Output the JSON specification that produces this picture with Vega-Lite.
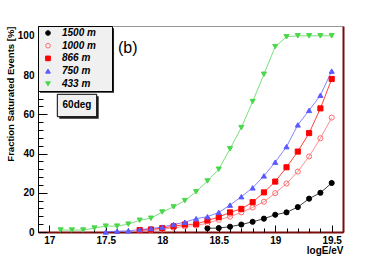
{
  "$schema": "https://vega.github.io/schema/vega-lite/v6.json",
  "width": 305,
  "height": 206,
  "autosize": "none",
  "padding": {"left": 38, "top": 26, "right": 39, "bottom": 27},
  "background": "white",
  "config": {"view": {"stroke": null}, "font": "Liberation Sans"},
  "datasets": {"runs": [
    {"series": "1500 m", "logE": 18.4, "frac": 1.9},
    {"series": "1500 m", "logE": 18.5, "frac": 2.0},
    {"series": "1500 m", "logE": 18.6, "frac": 2.7},
    {"series": "1500 m", "logE": 18.7, "frac": 3.8},
    {"series": "1500 m", "logE": 18.8, "frac": 5.2},
    {"series": "1500 m", "logE": 18.9, "frac": 6.8},
    {"series": "1500 m", "logE": 19.0, "frac": 8.8},
    {"series": "1500 m", "logE": 19.1, "frac": 10.0},
    {"series": "1500 m", "logE": 19.2, "frac": 12.7},
    {"series": "1500 m", "logE": 19.3, "frac": 17.0},
    {"series": "1500 m", "logE": 19.4, "frac": 20.0},
    {"series": "1500 m", "logE": 19.5, "frac": 25.0},
    {"series": "1000 m", "logE": 17.8, "frac": 0.5},
    {"series": "1000 m", "logE": 17.9, "frac": 0.8},
    {"series": "1000 m", "logE": 18.0, "frac": 1.3},
    {"series": "1000 m", "logE": 18.1, "frac": 2.2},
    {"series": "1000 m", "logE": 18.2, "frac": 2.8},
    {"series": "1000 m", "logE": 18.3, "frac": 3.3},
    {"series": "1000 m", "logE": 18.4, "frac": 4.5},
    {"series": "1000 m", "logE": 18.5, "frac": 6.2},
    {"series": "1000 m", "logE": 18.6, "frac": 7.8},
    {"series": "1000 m", "logE": 18.7, "frac": 10.0},
    {"series": "1000 m", "logE": 18.8, "frac": 12.5},
    {"series": "1000 m", "logE": 18.9, "frac": 15.4},
    {"series": "1000 m", "logE": 19.0, "frac": 19.8},
    {"series": "1000 m", "logE": 19.1, "frac": 24.7},
    {"series": "1000 m", "logE": 19.2, "frac": 30.8},
    {"series": "1000 m", "logE": 19.3, "frac": 38.5},
    {"series": "1000 m", "logE": 19.4, "frac": 47.8},
    {"series": "1000 m", "logE": 19.5, "frac": 58.3},
    {"series": "866 m", "logE": 17.8, "frac": 1.0},
    {"series": "866 m", "logE": 17.9, "frac": 1.3},
    {"series": "866 m", "logE": 18.0, "frac": 2.0},
    {"series": "866 m", "logE": 18.1, "frac": 2.9},
    {"series": "866 m", "logE": 18.2, "frac": 3.8},
    {"series": "866 m", "logE": 18.3, "frac": 4.0},
    {"series": "866 m", "logE": 18.4, "frac": 5.9},
    {"series": "866 m", "logE": 18.5, "frac": 7.6},
    {"series": "866 m", "logE": 18.6, "frac": 10.0},
    {"series": "866 m", "logE": 18.7, "frac": 11.8},
    {"series": "866 m", "logE": 18.8, "frac": 15.2},
    {"series": "866 m", "logE": 18.9, "frac": 20.2},
    {"series": "866 m", "logE": 19.0, "frac": 25.7},
    {"series": "866 m", "logE": 19.1, "frac": 33.0},
    {"series": "866 m", "logE": 19.2, "frac": 41.0},
    {"series": "866 m", "logE": 19.3, "frac": 50.4},
    {"series": "866 m", "logE": 19.4, "frac": 63.0},
    {"series": "866 m", "logE": 19.5, "frac": 78.0},
    {"series": "750 m", "logE": 17.5, "frac": 0.0},
    {"series": "750 m", "logE": 17.6, "frac": 0.4},
    {"series": "750 m", "logE": 17.7, "frac": 0.6},
    {"series": "750 m", "logE": 17.8, "frac": 1.2},
    {"series": "750 m", "logE": 17.9, "frac": 1.8},
    {"series": "750 m", "logE": 18.0, "frac": 2.5},
    {"series": "750 m", "logE": 18.1, "frac": 3.8},
    {"series": "750 m", "logE": 18.2, "frac": 5.0},
    {"series": "750 m", "logE": 18.3, "frac": 6.8},
    {"series": "750 m", "logE": 18.4, "frac": 7.8},
    {"series": "750 m", "logE": 18.5, "frac": 10.0},
    {"series": "750 m", "logE": 18.6, "frac": 13.7},
    {"series": "750 m", "logE": 18.7, "frac": 18.0},
    {"series": "750 m", "logE": 18.8, "frac": 22.5},
    {"series": "750 m", "logE": 18.9, "frac": 28.6},
    {"series": "750 m", "logE": 19.0, "frac": 35.6},
    {"series": "750 m", "logE": 19.1, "frac": 43.5},
    {"series": "750 m", "logE": 19.2, "frac": 54.6},
    {"series": "750 m", "logE": 19.3, "frac": 62.0},
    {"series": "750 m", "logE": 19.4, "frac": 69.7},
    {"series": "750 m", "logE": 19.5, "frac": 82.0},
    {"series": "433 m", "logE": 17.1, "frac": 1.0},
    {"series": "433 m", "logE": 17.2, "frac": 1.0},
    {"series": "433 m", "logE": 17.3, "frac": 1.0},
    {"series": "433 m", "logE": 17.4, "frac": 2.0},
    {"series": "433 m", "logE": 17.5, "frac": 3.0},
    {"series": "433 m", "logE": 17.6, "frac": 3.0},
    {"series": "433 m", "logE": 17.7, "frac": 4.0},
    {"series": "433 m", "logE": 17.8, "frac": 6.0},
    {"series": "433 m", "logE": 17.9, "frac": 7.0},
    {"series": "433 m", "logE": 18.0, "frac": 10.2},
    {"series": "433 m", "logE": 18.1, "frac": 12.8},
    {"series": "433 m", "logE": 18.2, "frac": 16.0},
    {"series": "433 m", "logE": 18.3, "frac": 20.5},
    {"series": "433 m", "logE": 18.4, "frac": 26.0},
    {"series": "433 m", "logE": 18.5, "frac": 32.0},
    {"series": "433 m", "logE": 18.6, "frac": 42.4},
    {"series": "433 m", "logE": 18.7, "frac": 53.2},
    {"series": "433 m", "logE": 18.8, "frac": 66.5},
    {"series": "433 m", "logE": 18.9, "frac": 80.4},
    {"series": "433 m", "logE": 19.0, "frac": 94.5},
    {"series": "433 m", "logE": 19.1, "frac": 99.5},
    {"series": "433 m", "logE": 19.2, "frac": 100.0},
    {"series": "433 m", "logE": 19.3, "frac": 100.0},
    {"series": "433 m", "logE": 19.4, "frac": 100.0},
    {"series": "433 m", "logE": 19.5, "frac": 100.0}
  ]},
  "resolve": {"axis": {"x": "independent", "y": "independent"}},
  "layer": [
    {
      "data": {"name": "runs"},
      "mark": {"type": "line", "strokeWidth": 1, "opacity": 0.75},
      "encoding": {
        "x": {"field": "logE", "type": "quantitative",
          "scale": {"domain": [16.9, 19.6], "nice": false, "zero": false},
          "axis": {"orient": "bottom", "values": [17, 17.5, 18, 18.5, 19, 19.5], "format": "~g", "tickSize": -7, "tickColor": "#000000", "tickWidth": 1,
            "domainColor": "#7a0c0c", "domainWidth": 2, "grid": false,
            "labelFont": "Liberation Sans", "labelFontWeight": "bold", "labelFontSize": 10, "labelColor": "#000000", "labelPadding": 10,
            "title": "logE/eV", "titleFont": "Liberation Sans", "titleFontWeight": "bold", "titleFontSize": 10, "titleColor": "#000000",
            "titleAnchor": "end", "titlePadding": 0}},
        "y": {"field": "frac", "type": "quantitative",
          "scale": {"domain": [0, 105], "nice": false},
          "axis": {"orient": "left", "values": [0, 20, 40, 60, 80, 100], "tickSize": -9, "tickColor": "#000000", "tickWidth": 1,
            "domainColor": "#000000", "domainWidth": 1, "grid": false,
            "labelFont": "Liberation Sans", "labelFontWeight": "bold", "labelFontSize": 10, "labelColor": "#000000", "labelPadding": 13,
            "title": "Fraction Saturated Events [%]", "titleFont": "Liberation Sans", "titleFontWeight": "bold", "titleFontSize": 9.5, "titleColor": "#000000",
            "titleAnchor": "end", "titlePadding": 2}},
        "detail": {"field": "series"},
        "color": {"field": "series", "type": "nominal", "legend": null,
          "scale": {"domain": ["433 m", "750 m", "866 m", "1000 m", "1500 m"], "range": ["#4cd64c", "#5a5aff", "#ff0000", "#ff6a6a", "#000000"]}}
      }
    },
    {
      "data": {"name": "runs"},
      "mark": {"type": "point", "filled": true, "opacity": 1, "strokeWidth": 1},
      "encoding": {
        "x": {"field": "logE", "type": "quantitative",
          "axis": {"orient": "bottom", "values": [16.9, 17.1, 17.2, 17.3, 17.4, 17.6, 17.7, 17.8, 17.9, 18.1, 18.2, 18.3, 18.4, 18.6, 18.7, 18.8, 18.9, 19.1, 19.2, 19.3, 19.4, 19.6],
            "tickSize": -4, "tickColor": "#000000", "labels": false, "domain": false, "grid": false, "title": null}},
        "y": {"field": "frac", "type": "quantitative",
          "axis": {"orient": "left", "values": [4, 8, 12, 16, 24, 28, 32, 36, 44, 48, 52, 56, 64, 68, 72, 76, 84, 88, 92, 96, 104],
            "tickSize": -5, "tickColor": "#000000", "labels": false, "domain": false, "grid": false, "title": null}},
        "stroke": {"field": "series", "type": "nominal",
          "scale": {"domain": ["1500 m", "1000 m", "866 m", "750 m", "433 m"], "range": ["#000000", "#ff6a6a", "#ff0000", "#5a5aff", "#4cd64c"]},
          "legend": {"orient": "none", "legendX": 0, "legendY": 0, "title": null, "fillColor": "#f0f0f0", "strokeColor": "#000000", "padding": 2, "symbolOffset": 3,
            "rowPadding": 2.7, "labelFont": "Liberation Sans", "labelFontWeight": "bold", "labelFontStyle": "italic", "labelFontSize": 10, "labelColor": "#000000", "labelOffset": 9,
            "symbolStrokeWidth": 1, "symbolSize": 22, "labelExpr": "datum.label + '\u2800\u2800'"}},
        "fill": {"field": "series", "type": "nominal",
          "scale": {"domain": ["1500 m", "1000 m", "866 m", "750 m", "433 m"], "range": ["#000000", "transparent", "#ff0000", "#5a5aff", "#4cd64c"]},
          "legend": {"orient": "none", "legendX": 0, "legendY": 0, "title": null, "fillColor": "#f0f0f0", "strokeColor": "#000000", "padding": 2, "symbolOffset": 3,
            "rowPadding": 2.7, "labelFont": "Liberation Sans", "labelFontWeight": "bold", "labelFontStyle": "italic", "labelFontSize": 10, "labelColor": "#000000", "labelOffset": 9,
            "symbolStrokeWidth": 1, "symbolSize": 22, "labelExpr": "datum.label + '\u2800\u2800'"}},
        "shape": {"field": "series", "type": "nominal",
          "scale": {"domain": ["1500 m", "1000 m", "866 m", "750 m", "433 m"], "range": ["circle", "circle", "square", "triangle-up", "triangle-down"]},
          "legend": {"orient": "none", "legendX": 0, "legendY": 0, "title": null, "fillColor": "#f0f0f0", "strokeColor": "#000000", "padding": 2, "symbolOffset": 3,
            "rowPadding": 2.7, "labelFont": "Liberation Sans", "labelFontWeight": "bold", "labelFontStyle": "italic", "labelFontSize": 10, "labelColor": "#000000", "labelOffset": 9,
            "symbolStrokeWidth": 1, "symbolSize": 22, "labelExpr": "datum.label + '\u2800\u2800'"}},
        "size": {"value": 26}
      }
    },
    {
      "data": {"values": [{}]},
      "mark": {"type": "rect", "fill": "#222222"},
      "encoding": {
        "x": {"datum": 17.0886, "type": "quantitative", "axis": {"orient": "top", "domainColor": "#999999", "domainWidth": 1, "ticks": false, "labels": false, "grid": false, "title": null}},
        "x2": {"datum": 17.4374},
        "y": {"datum": 69.17, "type": "quantitative", "axis": {"orient": "right", "domainColor": "#7a0c0c", "domainWidth": 2, "ticks": false, "labels": false, "grid": false, "title": null}},
        "y2": {"datum": 57.75}
      }
    },
    {
      "data": {"values": [{}]},
      "mark": {"type": "rect", "fill": "#222222"},
      "encoding": {
        "x": {"datum": 16.918, "type": "quantitative", "axis": null},
        "x2": {"datum": 17.573},
        "y": {"datum": 103.9, "type": "quantitative", "axis": null},
        "y2": {"datum": 71.0}
      }
    },
    {
      "data": {"values": [{}]},
      "mark": {"type": "rect", "fill": "#f0f0f0", "stroke": "#000000", "strokeWidth": 1},
      "encoding": {
        "x": {"datum": 17.0709, "type": "quantitative", "axis": null},
        "x2": {"datum": 17.4197},
        "y": {"datum": 70.19, "type": "quantitative", "axis": null},
        "y2": {"datum": 58.77}
      }
    },
    {
      "data": {"values": [{}]},
      "mark": {"type": "text", "text": "60deg", "font": "Liberation Sans", "fontWeight": "bold", "fontSize": 10, "align": "center", "baseline": "middle", "color": "#000000"},
      "encoding": {
        "x": {"datum": 17.2453, "type": "quantitative", "axis": null},
        "y": {"datum": 64.48, "type": "quantitative", "axis": null}
      }
    },
    {
      "data": {"values": [{}]},
      "mark": {"type": "text", "text": "(b)", "font": "Liberation Sans", "fontSize": 16, "align": "left", "baseline": "middle", "color": "#000000"},
      "encoding": {
        "x": {"datum": 17.608, "type": "quantitative", "axis": null},
        "y": {"datum": 94.04, "type": "quantitative", "axis": null}
      }
    }
  ]
}
